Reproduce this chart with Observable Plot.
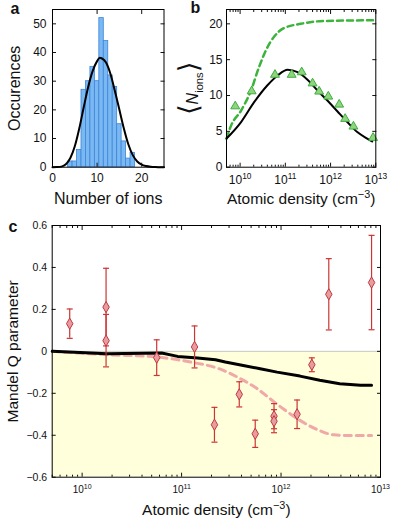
<!DOCTYPE html>
<html><head><meta charset="utf-8">
<script src="https://cdn.jsdelivr.net/npm/d3@7"></script>
<script src="https://cdn.jsdelivr.net/npm/@observablehq/plot@0.6"></script>
<style>
html,body{margin:0;padding:0;background:#fff;}
#wrap{position:relative;width:394px;height:522px;overflow:hidden;}
#wrap > svg{position:absolute;overflow:visible;}
</style></head><body><div id="wrap"></div>
<script>
// ---------- Panel a: histogram of ion numbers ----------
const histBins   = [4,5,6,7,8,9,10,11,12,13,14,15,16,17,18];
const histCounts = [2,2,6,27,30,35,30,52,44,32,28,15,9,3,5];
const fitIons = [0,1,2,3,4,5,6,7,8,9,10,10.6,11,12,13,14,15,16,17,18,19,20,21,22,23,24,25];
const fitOcc  = [0,0.03,0.2,1,3.2,7.3,13.5,20.9,28,33.5,37,38.2,38,36.5,32.5,26.5,20,13.5,8,4.2,2,0.9,0.4,0.15,0.05,0.02,0];
const ticksAX = [0,10,20];
const ticksAY = [0,10,20,30,40,50];

// ---------- Panel b: mean ion number vs density ----------
const densB = [7.8e9,1.8e10,5.9e10,1.38e11,2.3e11,4.0e11,5.6e11,8.9e11,1.55e12,2.1e12,3.2e12,8.7e12];
const ionsB = [8.5,10.6,12.9,12.9,13.25,11.7,10.56,9.86,8.74,6.75,5.68,4.1];
const modelDensB = [5.01e9,1.05e10,2.04e10,3.98e10,6.76e10,1.12e11,1.86e11,3.09e11,5.13e11,8.51e11,1.41e12,2.34e12,3.89e12,6.46e12,8.32e12];
const modelIonsB = [4.0,6.3,9.07,11.4,12.8,13.6,13.25,12.2,10.7,9.3,7.8,6.3,4.9,4.0,3.6];
const noLossDensB = [5.01e9,6.31e9,1.05e10,1.74e10,2.63e10,3.72e10,5.62e10,9.33e10,2.19e11,7.08e11,1e13];
const noLossIonsB = [4.0,5.8,7.9,10.7,14.0,16.3,18.2,19.4,20.0,20.4,20.5];
const ticksBY = [0,5,10,15,20];
const ticksDens = [1e10,1e11,1e12,1e13];

// ---------- Panel c: Mandel Q parameter ----------
const densC = [7.5e9,1.74e10,1.74e10,5.62e10,1.35e11,2.14e11,3.8e11,5.5e11,8.5e11,8.5e11,1.45e12,2.04e12,3.02e12,8.13e12];
const qC    = [0.132,0.211,0.051,-0.03,0.021,-0.35,-0.205,-0.393,-0.309,-0.333,-0.3,-0.064,0.272,0.328];
const errC  = [0.07,0.185,0.125,0.085,0.1,0.083,0.06,0.065,0.06,0.055,0.068,0.033,0.17,0.225];
const modelDensC = [5.01e9,9.55e9,1.78e10,6.31e10,9.12e10,1.45e11,2.19e11,2.75e11,4.17e11,6.17e11,9.12e11,1.55e12,2.45e12,3.89e12,6.31e12,8.13e12];
const modelQC    = [0,-0.006,-0.011,-0.008,-0.024,-0.032,-0.04,-0.051,-0.067,-0.083,-0.099,-0.118,-0.138,-0.154,-0.162,-0.162];
const altDensC = [5.01e9,1.78e10,5.62e10,1.23e11,2.45e11,3.89e11,5.75e11,7.76e11,1.05e12,1.55e12,2.29e12,3.39e12,4.9e12,8.13e12];
const altQC    = [0,-0.016,-0.027,-0.051,-0.085,-0.13,-0.178,-0.226,-0.274,-0.329,-0.372,-0.398,-0.401,-0.401];
const ticksCY = [-0.6,-0.4,-0.2,0,0.2,0.4,0.6];

const labelA_X = "Number of ions", labelA_Y = "Occurences";
const labelB_X = "Atomic density (cm^{−3})", labelB_Y = "⟨N_{ions}⟩";
const labelC_X = "Atomic density (cm^{−3})", labelC_Y = "Mandel Q parameter";

const domDens = [5e9, 1e13];
const FONT = '"Liberation Sans", Arial, Helvetica, sans-serif';
const minor = [];
for (let e = 9; e < 13; e++) for (let m = 2; m <= 9; m++) { const v = m * 10 ** e; if (v >= domDens[0] && v <= domDens[1]) minor.push(v); }
const logFmt = d => "10^{" + Math.round(Math.log10(d)) + "}";
const capSymbol = { draw(ctx, size) { const w = Math.sqrt(size / Math.PI); ctx.moveTo(-w, 0); ctx.lineTo(w, 0); } };

const NS = "http://www.w3.org/2000/svg";
function richify(svg) {
  svg.querySelectorAll("text").forEach(t => {
    const s = t.textContent;
    if (s === labelB_Y) {
      t.textContent = "";
      const add = (txt, attrs) => { const ts = document.createElementNS(NS, "tspan"); for (const k in attrs) ts.setAttribute(k, attrs[k]); ts.textContent = txt; t.appendChild(ts); };
      add("⟨", {"font-size": "170%", "font-family": "DejaVu Sans"});
      add("N", {"font-style": "italic"});
      add("ions", {"font-size": "70%", dy: (0.3 / 0.7) + "em"});
      add("⟩", {"font-size": "170%", dy: (-0.3 / 1.7) + "em", "font-family": "DejaVu Sans"});
      return;
    }
    if (!/[\^_]\{/.test(s)) return;
    const parts = s.split(/([\^_]\{[^}]*\})/).filter(p => p !== "");
    t.textContent = "";
    let shifted = 0;
    for (const p of parts) {
      const ts = document.createElementNS(NS, "tspan");
      const m = p.match(/^([\^_])\{(.*)\}$/);
      if (m) {
        const off = m[1] === "^" ? -0.4 : 0.25;
        ts.setAttribute("font-size", "70%");
        ts.setAttribute("dy", ((off - shifted) / 0.7) + "em");
        shifted = off;
        ts.textContent = m[2];
      } else {
        if (shifted) ts.setAttribute("dy", (-shifted) + "em");
        shifted = 0;
        ts.textContent = p;
      }
      t.appendChild(ts);
    }
  });
}

const wrap = document.getElementById("wrap");
function place(svg, left, top) { svg.style.left = left + "px"; svg.style.top = top + "px"; richify(svg); wrap.appendChild(svg); }
const baseStyle = {fontFamily: FONT, fontSize: "12px", background: "transparent", color: "#111"};

// Panel a
const histData = histBins.map((b, i) => ({b, c: histCounts[i]}));
const fitData = fitIons.map((x, i) => ({x, y: fitOcc[i]}));
const plotA = Plot.plot({
  width: 180, height: 222, marginLeft: 52, marginRight: 16.5, marginTop: 9, marginBottom: 55.3,
  style: baseStyle,
  x: {type: "linear", domain: [0, 25]},
  y: {domain: [0, 55]},
  marks: [
    Plot.rectY(histData, {x1: d => d.b - 0.5, x2: d => d.b + 0.5, y: "c", fill: "#7ab8f2", stroke: "#3d85da", strokeWidth: 0.8}),
    Plot.line(fitData, {x: "x", y: "y", stroke: "#000", strokeWidth: 2, curve: "monotone-x"}),
    Plot.axisX(ticksAX, {tickSize: -4, tickPadding: 10, label: null}),
    Plot.axisX(ticksAX, {anchor: "top", tickSize: -4, fill: null, label: null}),
    Plot.axisY(ticksAY, {tickSize: -4, tickPadding: 10, label: null}),
    Plot.axisY(ticksAY, {anchor: "right", tickSize: -4, fill: null, label: null}),
    Plot.frame({stroke: "#000"}),
    Plot.text([labelA_X], {text: d => d, frameAnchor: "bottom", dy: 32, fontSize: 16, lineAnchor: "middle", textAnchor: "middle"}),
    Plot.text([labelA_Y], {text: d => d, frameAnchor: "left", dx: -37.5, rotate: -90, fontSize: 16, lineAnchor: "middle", textAnchor: "middle"}),
    Plot.text(["a"], {text: d => d, frameAnchor: "top-left", dx: -42, dy: -0.5, fontSize: 16, fontWeight: "bold", textAnchor: "start", lineAnchor: "middle"})
  ]
});
place(plotA, 0, 0);

// Panel b
const ptsB = densB.map((d, i) => ({d, n: ionsB[i]}));
const modB = modelDensB.map((d, i) => ({d, n: modelIonsB[i]}));
const nlB = noLossDensB.map((d, i) => ({d, n: noLossIonsB[i]}));
const plotB = Plot.plot({
  width: 214, height: 222, marginLeft: 46, marginRight: 18.7, marginTop: 9, marginBottom: 55.3,
  style: baseStyle,
  x: {type: "log", domain: domDens},
  y: {domain: [0, 22]},
  marks: [
    Plot.line(nlB, {x: "d", y: "n", stroke: "#3cb43c", strokeWidth: 2.5, strokeDasharray: "6,4", curve: "monotone-x"}),
    Plot.line(modB, {x: "d", y: "n", stroke: "#000", strokeWidth: 2, curve: "monotone-x"}),
    Plot.dot(ptsB, {x: "d", y: "n", symbol: "triangle", r: 3.3, fill: "#8fd47f", stroke: "#3fae3f", strokeWidth: 1}),
    Plot.axisX(ticksDens, {tickSize: -4, tickPadding: 12, label: null, tickFormat: logFmt}),
    Plot.axisX(minor, {tickSize: -2, fill: null, label: null}),
    Plot.axisX(ticksDens, {anchor: "top", tickSize: -4, fill: null, label: null}),
    Plot.axisX(minor, {anchor: "top", tickSize: -2, fill: null, label: null}),
    Plot.axisY(ticksBY, {tickSize: -4, tickPadding: 8, label: null}),
    Plot.axisY(ticksBY, {anchor: "right", tickSize: -4, fill: null, label: null}),
    Plot.frame({stroke: "#000"}),
    Plot.text([labelB_X], {text: d => d, frameAnchor: "bottom", dy: 32, fontSize: 15.5, lineAnchor: "middle", textAnchor: "middle"}),
    Plot.text([labelB_Y], {text: d => d, frameAnchor: "left", dx: -33.5, rotate: -90, fontSize: 16, lineAnchor: "middle", textAnchor: "middle"}),
    Plot.text(["b"], {text: d => d, frameAnchor: "top-left", dx: -36, dy: -1.8, fontSize: 16, fontWeight: "bold", textAnchor: "start", lineAnchor: "middle"})
  ]
});
place(plotB, 180, 0);

// Panel c
const ptsC = densC.map((d, i) => ({d, q: qC[i], e: errC[i]}));
const capsC = ptsC.flatMap(p => [{d: p.d, q: p.q - p.e}, {d: p.d, q: p.q + p.e}]);
const modC = modelDensC.map((d, i) => ({d, q: modelQC[i]}));
const altC = altDensC.map((d, i) => ({d, q: altQC[i]}));
const plotC = Plot.plot({
  width: 394, height: 300, marginLeft: 51.7, marginRight: 14, marginTop: 3, marginBottom: 45.3,
  style: baseStyle,
  x: {type: "log", domain: domDens},
  y: {domain: [-0.6, 0.6]},
  marks: [
    Plot.rect([null], {x1: domDens[0], x2: domDens[1], y1: ticksCY[0], y2: 0, fill: "#ffffdc"}),
    Plot.ruleY([0], {stroke: "#c8c8c8", strokeWidth: 1}),
    Plot.line(altC, {x: "d", y: "q", stroke: "#f0a8a8", strokeWidth: 3, strokeDasharray: "7,5", curve: "monotone-x"}),
    Plot.line(modC, {x: "d", y: "q", stroke: "#000", strokeWidth: 3, curve: "linear"}),
    Plot.ruleX(ptsC, {x: "d", y1: d => d.q - d.e, y2: d => d.q + d.e, stroke: "#cc3535", strokeWidth: 1.2}),
    Plot.dot(capsC, {x: "d", y: "q", symbol: capSymbol, r: 3, stroke: "#cc3535", strokeWidth: 1.2}),
    Plot.dot(ptsC, {x: "d", y: "q", symbol: "diamond", r: 3.4, fill: "#e89ca2", stroke: "#c0393b", strokeWidth: 1}),
    Plot.axisX(ticksDens, {tickSize: -4, tickPadding: 13, label: null, tickFormat: logFmt, fontSize: 10}),
    Plot.axisX(minor, {tickSize: -2, fill: null, label: null}),
    Plot.axisX(ticksDens, {anchor: "top", tickSize: -4, fill: null, label: null}),
    Plot.axisX(minor, {anchor: "top", tickSize: -2, fill: null, label: null}),
    Plot.axisY(ticksCY, {tickSize: -4, tickPadding: 9, label: null, fontSize: 10.5, tickFormat: d => d === 0 ? "0" : d3.format(".1f")(d)}),
    Plot.axisY(ticksCY, {anchor: "right", tickSize: -4, fill: null, label: null}),
    Plot.frame({stroke: "#000"}),
    Plot.text([labelC_X], {text: d => d, frameAnchor: "bottom", dy: 33, fontSize: 15.5, lineAnchor: "middle", textAnchor: "middle"}),
    Plot.text([labelC_Y], {text: d => d, frameAnchor: "left", dx: -39, rotate: -90, fontSize: 15.5, lineAnchor: "middle", textAnchor: "middle"}),
    Plot.text(["c"], {text: d => d, frameAnchor: "top-left", dx: -43.7, dy: 1.5, fontSize: 16, fontWeight: "bold", textAnchor: "start", lineAnchor: "middle"})
  ]
});
place(plotC, 0, 222);
</script></body></html>
